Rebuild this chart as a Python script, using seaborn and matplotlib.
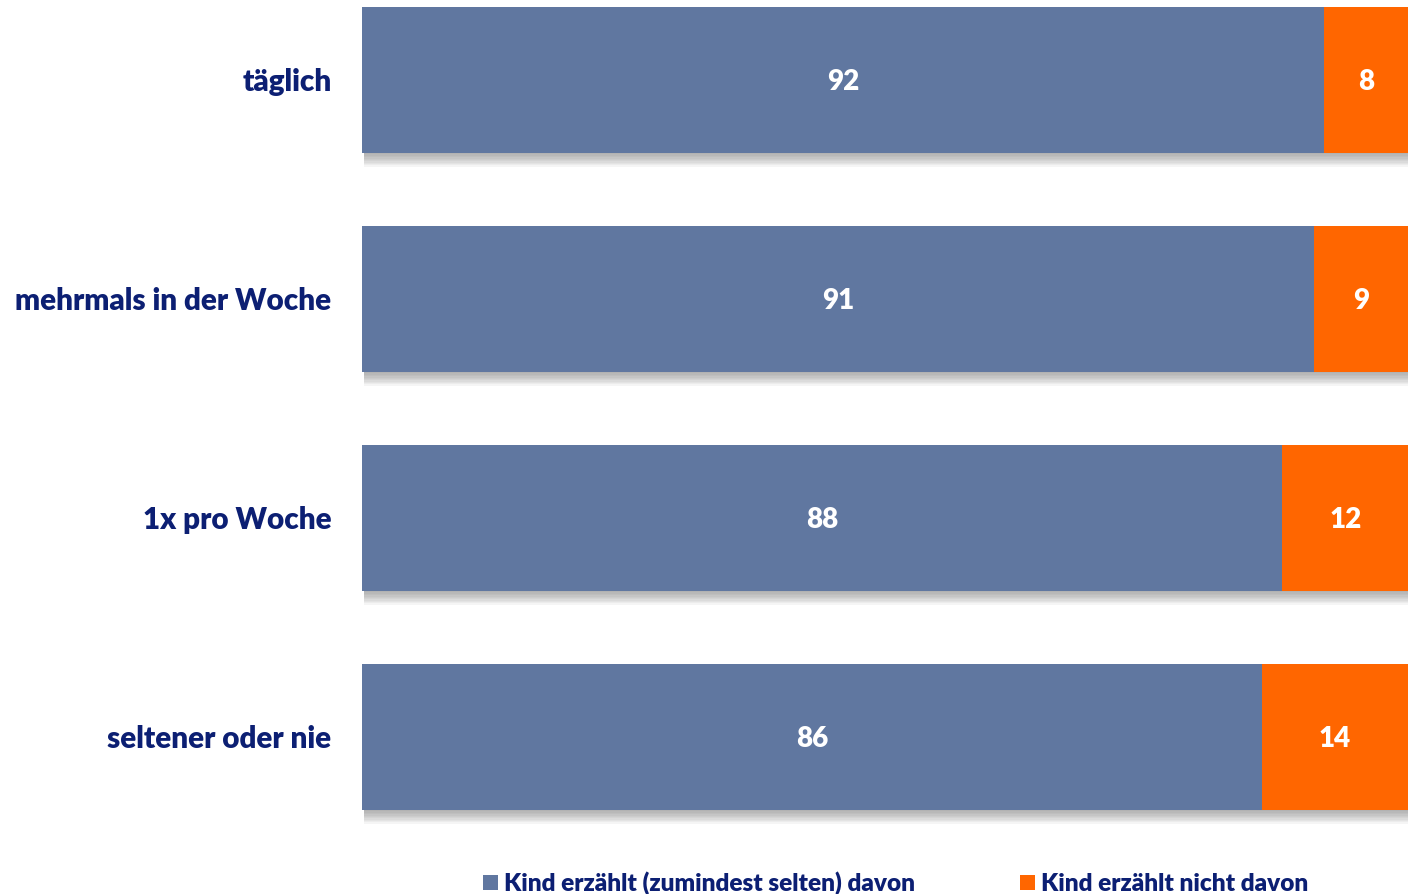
import matplotlib
matplotlib.use("Agg")
import matplotlib.pyplot as plt
import matplotlib.patheffects as pe
from matplotlib.patches import Patch
import pandas as pd
import seaborn as sns

# data
categories = ["täglich", "mehrmals in der Woche", "1x pro Woche", "seltener oder nie"]
erzaehlt = [92, 91, 88, 86]
nicht_erzaehlt = [8, 9, 12, 14]
series_names = ["Kind erzählt (zumindest selten) davon", "Kind erzählt nicht davon"]

BLUE = "#6077A0"
ORANGE = "#FF6600"
NAVY = "#0C1F73"

df = pd.DataFrame({
    "cat": categories,
    "erzaehlt": erzaehlt,
    "nicht": nicht_erzaehlt,
})
df["total"] = df["erzaehlt"] + df["nicht"]

sns.set_theme(style="white")
plt.rcParams["font.family"] = ["Lato", "DejaVu Sans"]
plt.rcParams["font.weight"] = "heavy"
WEIGHT = "heavy"

fig = plt.figure(figsize=(14.14, 8.94), dpi=100)
ax = fig.add_axes([362 / 1414, 64 / 894, 1046 / 1414, 830 / 894])

# soft drop shadow below the bars: stacked faint copies
shadow = [pe.SimplePatchShadow(offset=(1.5, -k), shadow_rgbFace="#555555", alpha=0.055)
          for k in range(1, 11)] + [pe.Normal()]

# full bar (orange) first, then the blue part on top of it
sns.barplot(data=df, x="total", y="cat", color=ORANGE, saturation=1, width=0.667, ax=ax)
sns.barplot(data=df, x="erzaehlt", y="cat", color=BLUE, saturation=1, width=0.667, ax=ax)

n = len(categories)
for i, p in enumerate(ax.patches):
    if i < n:
        p.set_path_effects(shadow)
    p.set_linewidth(0)

# value labels
for i in range(n):
    ax.text(erzaehlt[i] / 2, i + 0.01, str(erzaehlt[i]), ha="center", va="center",
            color="white", fontsize=20, fontweight=WEIGHT)
    ax.text(erzaehlt[i] + nicht_erzaehlt[i] / 2, i + 0.01, str(nicht_erzaehlt[i]), ha="center",
            va="center", color="white", fontsize=20, fontweight=WEIGHT)

ax.set_xlim(0, 100)
ax.set_ylim(3.425, -0.365)
ax.set_xlabel("")
ax.set_ylabel("")
ax.set_xticks([])
ax.tick_params(axis="y", length=0, pad=22)
for lab in ax.get_yticklabels():
    lab.set_color(NAVY)
    lab.set_fontsize(21.3)
    lab.set_fontweight(WEIGHT)
for s in ax.spines.values():
    s.set_visible(False)

handles = [Patch(facecolor=BLUE, edgecolor="none"), Patch(facecolor=ORANGE, edgecolor="none")]
leg = fig.legend(handles, series_names, loc="lower left", bbox_to_anchor=(461 / 1414, -0.026),
                 ncol=2, frameon=False, handlelength=0.6, handleheight=0.6, handletextpad=0.25,
                 columnspacing=4.3, prop={"size": 17.6, "weight": WEIGHT})
for t in leg.get_texts():
    t.set_color(NAVY)

fig.savefig("out.png", dpi=100)
